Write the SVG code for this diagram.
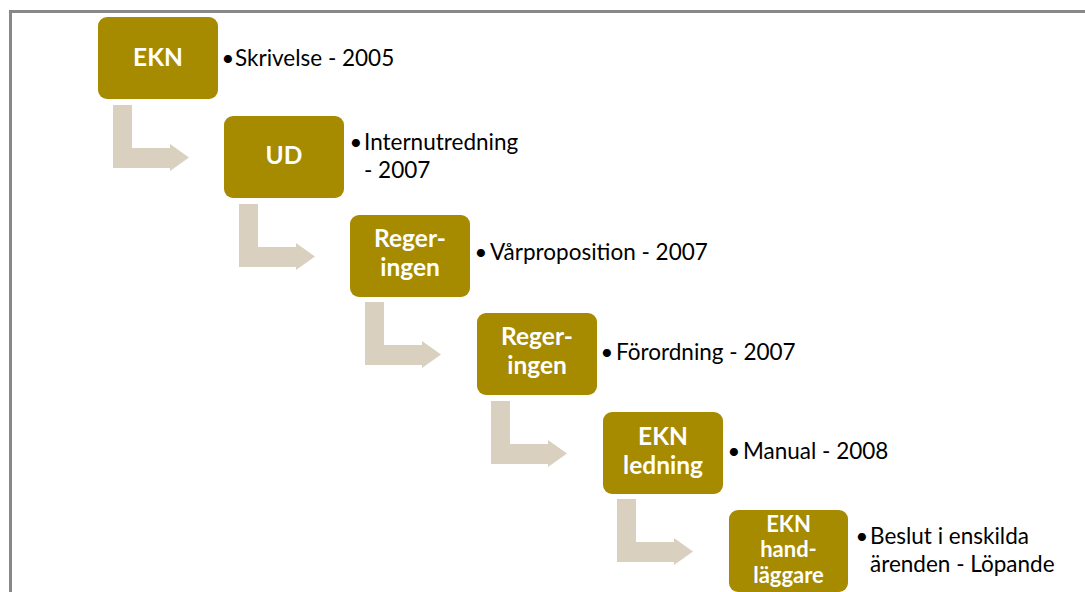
<svg xmlns="http://www.w3.org/2000/svg" width="1085" height="592" viewBox="0 0 1085 592">
<style>
.node{fill:#A68A00}
.lbl{font-family:Lato,"Liberation Sans",sans-serif;font-weight:bold;font-size:24.5px;fill:#FFFFFF;text-anchor:middle}
.lbl6{font-size:22px}
.txt{font-family:Lato,"Liberation Sans",sans-serif;font-size:22.5px;fill:#000000}
.bul{font-family:Lato,"Liberation Sans",sans-serif;font-size:22px;fill:#000000;text-anchor:middle}
.arrow{fill:#D9D0BF}
</style>
<defs>
<path id="bent" d="M0,0 H19 V43 H57 V39 L76,52.5 L57,66 V63 H0 Z"/>
</defs>
<rect width="1085" height="592" fill="#FFFFFF"/>
<path d="M10.5,592 V11.5 H1085" fill="none" stroke="#888888" stroke-width="3"/>
<g id="connectors">
<use href="#bent" class="arrow" x="113" y="105"/>
<use href="#bent" class="arrow" x="239" y="204"/>
<use href="#bent" class="arrow" x="365" y="302"/>
<use href="#bent" class="arrow" x="491" y="401"/>
<use href="#bent" class="arrow" x="617" y="499"/>
</g>
<g id="n1">
<rect class="node" x="98" y="17" width="120" height="82" rx="9"/>
<text class="lbl" x="158" y="66">EKN</text>
<text class="bul" x="228" y="66">•</text>
<text class="txt" x="235" y="66">Skrivelse - 2005</text>
</g>
<g id="n2">
<rect class="node" x="224" y="116" width="120" height="82" rx="9"/>
<text class="lbl" x="284" y="164">UD</text>
<text class="bul" x="356" y="150">•</text>
<text class="txt" x="364" y="150">Internutredning</text>
<text class="txt" x="364" y="178"> - 2007</text>
</g>
<g id="n3">
<rect class="node" x="350" y="215" width="120" height="82" rx="9"/>
<text class="lbl" x="410" y="247">Reger-</text>
<text class="lbl" x="410" y="276">ingen</text>
<text class="bul" x="481" y="260">•</text>
<text class="txt" x="490" y="260">Vårproposition - 2007</text>
</g>
<g id="n4">
<rect class="node" x="477" y="313" width="120" height="82" rx="9"/>
<text class="lbl" x="537" y="345">Reger-</text>
<text class="lbl" x="537" y="374">ingen</text>
<text class="bul" x="607" y="360">•</text>
<text class="txt" x="616" y="360">Förordning - 2007</text>
</g>
<g id="n5">
<rect class="node" x="603" y="412" width="120" height="82" rx="9"/>
<text class="lbl" x="663" y="445">EKN</text>
<text class="lbl" x="663" y="474">ledning</text>
<text class="bul" x="734" y="459">•</text>
<text class="txt" x="743" y="459">Manual - 2008</text>
</g>
<g id="n6">
<rect class="node" x="729" y="510" width="119" height="82" rx="9"/>
<text class="lbl lbl6" x="788.5" y="532">EKN</text>
<text class="lbl lbl6" x="788.5" y="557">hand-</text>
<text class="lbl lbl6" x="788.5" y="583">läggare</text>
<text class="bul" x="862" y="544">•</text>
<text class="txt" x="870" y="544">Beslut i enskilda</text>
<text class="txt" x="870" y="572">ärenden - Löpande</text>
</g>
</svg>
